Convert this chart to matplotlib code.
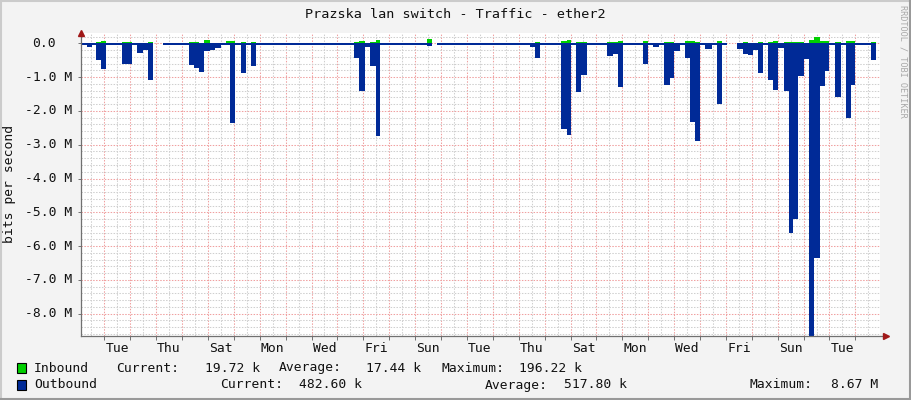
import numpy as np
import matplotlib
matplotlib.use("Agg")
import matplotlib.pyplot as plt
from matplotlib.transforms import blended_transform_factory
from matplotlib.lines import Line2D
from matplotlib.patches import Rectangle

plt.rcParams['font.family'] = ['DejaVu Sans Mono']

# ---- data (time in days since the first "Tue" midnight, traffic in Mbit/s) ----
edges = [-0.90, -0.87, -0.680, -0.486, -0.320, -0.127, 0.066, 0.517, 0.695, 1.058,
         1.274, 1.506, 1.699, 1.892, 2.278, 3.282, 3.475, 3.668, 3.861, 4.081,
         4.274, 4.494, 4.687, 4.865, 5.058, 5.278, 5.471, 5.664, 5.857, 6.463,
         6.695, 9.641, 9.834, 10.066, 10.259, 10.479, 10.645, 12.471, 12.664, 12.846,
         16.436, 16.629, 16.822, 17.633, 17.853, 18.019, 18.212, 18.405, 18.649, 19.421,
         19.629, 19.846, 20.039, 20.232, 20.788, 21.004, 21.197, 21.429, 21.610, 21.842,
         22.008, 22.228, 22.421, 22.614, 22.807, 23.000, 23.193, 23.452, 23.645, 23.838,
         24.043, 24.429, 24.649, 24.842, 25.035, 25.228, 25.421, 25.614, 25.830, 26.023,
         26.243, 26.436, 26.591, 26.795, 27.015, 27.208, 27.402, 27.633, 27.826, 27.992,
         28.212, 28.432, 28.625, 28.819, 28.985, 29.602, 29.795]

outbound = [-0.75, -0.04, -0.10, -0.04, -0.49, -0.76, -0.06, -0.04, -0.60, -0.04,
            -0.30, -0.20, -1.08, np.nan, -0.04, -0.63, -0.72, -0.84, -0.23, -0.20,
            -0.13, -0.04, -0.05, -2.35, -0.04, -0.87, -0.04, -0.66, -0.04, -0.05,
            -0.04, -0.43, -1.40, -0.12, -0.66, -2.74, -0.04, -0.08, np.nan, -0.04,
            -0.11, -0.43, -0.04, -2.55, -2.70, -0.04, -1.43, -0.93, -0.04, -0.37,
            -0.33, -1.28, -0.06, -0.04, -0.60, -0.06, -0.11, -0.04, -1.22, -1.02,
            -0.22, -0.04, -0.43, -2.32, -2.90, -0.04, -0.17, -0.06, -1.80, -0.04,
            np.nan, -0.17, -0.32, -0.35, -0.20, -0.87, -0.04, -1.08, -1.37, -0.13,
            -1.40, -5.62, -5.20, -0.96, -0.46, -8.67, -6.35, -1.25, -0.81, -0.04,
            -1.60, -0.04, -2.20, -1.22, -0.04, -0.49]

inbound = [0.02, 0.01, 0.01, 0.01, 0.04, 0.07, 0.01, 0.0, 0.04, 0.0,
           0.01, 0.01, 0.04, np.nan, 0.0, 0.05, 0.05, 0.02, 0.10, 0.02,
           0.01, 0.0, 0.06, 0.07, 0.0, 0.04, 0.0, 0.04, 0.0, 0.0,
           0.0, 0.05, 0.06, 0.01, 0.04, 0.10, 0.0, 0.12, np.nan, 0.0,
           0.0, 0.04, 0.0, 0.07, 0.10, 0.0, 0.04, 0.04, 0.0, 0.05,
           0.05, 0.07, 0.01, 0.0, 0.07, 0.01, 0.01, 0.0, 0.05, 0.05,
           0.01, 0.0, 0.06, 0.06, 0.05, 0.0, 0.01, 0.01, 0.07, 0.0,
           np.nan, 0.01, 0.04, 0.01, 0.01, 0.04, 0.0, 0.05, 0.07, 0.01,
           0.05, 0.05, 0.05, 0.05, 0.01, 0.10, 0.20, 0.07, 0.07, 0.0,
           0.05, 0.0, 0.08, 0.07, 0.0, 0.04]

day_names = ['Tue', 'Thu', 'Sat', 'Mon', 'Wed', 'Fri', 'Sun', 'Tue',
             'Thu', 'Sat', 'Mon', 'Wed', 'Fri', 'Sun', 'Tue']
label_days = [0.5 + 2 * i for i in range(len(day_names))]

y_major = [0, -1, -2, -3, -4, -5, -6, -7, -8]
y_labels = ['0.0', '-1.0 M', '-2.0 M', '-3.0 M', '-4.0 M', '-5.0 M', '-6.0 M', '-7.0 M', '-8.0 M']

title = 'Prazska lan switch - Traffic - ether2'
legend_rows = [
    ('Inbound', '#00CF00', [('Current:', 116), ('19.72 k', 205), ('Average:', 279),
                            ('17.44 k', 366), ('Maximum:', 441), ('196.22 k', 519)]),
    ('Outbound', '#002A97', [('Current:', 220), ('482.60 k', 299), ('Average:', 485),
                             ('517.80 k', 564), ('Maximum:', 750), ('8.67 M', 831)]),
]

W, H = 911, 400
BG = '#F3F3F3'
FS = 9.4

fig = plt.figure(figsize=(W / 100, H / 100), dpi=100, facecolor=BG)
L, R, T, B = 81, 880, 33, 336
ax = fig.add_axes([L / W, 1 - B / H, (R - L) / W, (B - T) / H])
ax.set_facecolor('white')

x0, x1 = -0.90, 29.95
ax.set_xlim(x0, x1)
ax.set_ylim(-8.66, 0.305)

# grid
for k in np.arange(-1.0, 30.5, 0.5):
    if x0 < k < x1:
        if abs(k - round(k)) < 1e-6:
            ax.axvline(k, color='#F0A0A0', lw=0.75, ls=(0, (1.4, 1.4)), zorder=0)
        else:
            ax.axvline(k, color='#CFCFCF', lw=0.75, ls=(0, (1.4, 1.4)), zorder=0)
for v in np.arange(0.2, -8.7, -0.2):
    if abs(v - round(v)) < 1e-6:
        ax.axhline(v, color='#F0A0A0', lw=0.75, ls=(0, (1.4, 1.4)), zorder=0)
    else:
        ax.axhline(v, color='#CFCFCF', lw=0.75, ls=(0, (1.4, 1.4)), zorder=0)

# areas
e = np.array(edges)
o = np.nan_to_num(np.array(outbound, dtype=float))
i_ = np.nan_to_num(np.array(inbound, dtype=float))
ax.fill_between(e, np.append(o, o[-1]), 0, step='post', color='#002A97', lw=0, zorder=2)
ax.fill_between(e, np.append(i_, i_[-1]), 0, step='post', color='#00CF00', lw=0, zorder=2)

# axes
for s in ['top', 'right']:
    ax.spines[s].set_visible(False)
for s in ['left', 'bottom']:
    ax.spines[s].set_color('#707070')
    ax.spines[s].set_linewidth(0.9)
    ax.spines[s].set_zorder(3)
ax.spines['bottom'].set_bounds(x0, x1 + 0.2)

ax.set_xticks([d for d in range(0, 30)])
ax.set_xticklabels([])
ax.tick_params(axis='x', length=3, width=0.7, color='#707070', direction='out')
ax.set_yticks(y_major)
ax.set_yticklabels([])
ax.tick_params(axis='y', length=2, width=0.7, color='#707070', direction='out')

ax.plot([0], [1.0], marker='^', color='#A01818', ms=5, transform=ax.transAxes, clip_on=False, zorder=5)
ax.plot([x1 + 0.25], [-8.66], marker='>', color='#A01818', ms=5, clip_on=False, zorder=5)

# y labels
ty = blended_transform_factory(fig.transFigure, ax.transData)
for v, lab in zip(y_major, y_labels):
    xr = 56 if lab == '0.0' else 72
    ax.text(xr / W, v, lab, transform=ty, ha='right', va='center', fontsize=FS, color='#111111')

# x labels
tx = blended_transform_factory(ax.transData, fig.transFigure)
for d, lab in zip(label_days, day_names):
    ax.text(d, 1 - 349 / H, lab, transform=tx, ha='center', va='center', fontsize=FS, color='#111111')

def px(x, y):
    return x / W, 1 - y / H

fig.text(*px(455.5, 14), title, ha='center', va='center', fontsize=FS + 0.3, color='#111111')
fig.text(*px(10, 184), 'bits per second', rotation=90, ha='center', va='center', fontsize=FS, color='#111111')
fig.text(*px(903, 61), 'RRDTOOL / TOBI OETIKER', rotation=270, ha='center', va='center',
         fontsize=6.1, color='#A8A8A8')

for row, (name, col, items) in enumerate(legend_rows):
    yc = 368 + 17 * row
    fig.patches.append(Rectangle(px(17, yc + 5), 9 / W, 10 / H, transform=fig.transFigure,
                                 facecolor=col, edgecolor='black', lw=0.8))
    fig.text(*px(34, yc), name, ha='left', va='center', fontsize=FS, color='#111111')
    for txt, xx in items:
        fig.text(*px(xx, yc), txt, ha='left', va='center', fontsize=FS, color='#111111')

# frame
fig.lines.append(Line2D([0, 1], [1 - 1 / H, 1 - 1 / H], transform=fig.transFigure, color='#CBCBCB', lw=1.5))
fig.lines.append(Line2D([1 / W, 1 / W], [0, 1], transform=fig.transFigure, color='#CBCBCB', lw=1.5))
fig.lines.append(Line2D([0, 1], [1 / H, 1 / H], transform=fig.transFigure, color='#999999', lw=1.5))
fig.lines.append(Line2D([1 - 1 / W, 1 - 1 / W], [0, 1], transform=fig.transFigure, color='#999999', lw=1.5))

fig.savefig('out.png', dpi=100, facecolor=BG)
